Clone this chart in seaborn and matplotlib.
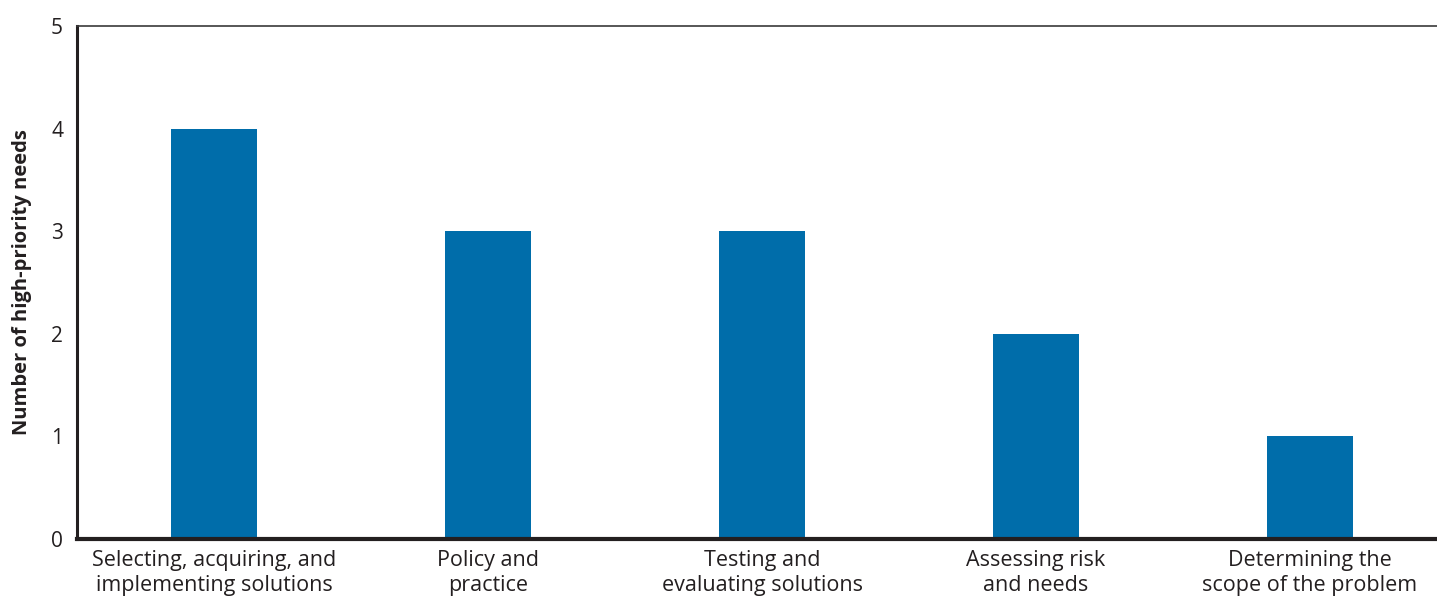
import matplotlib
matplotlib.use("Agg")
import matplotlib.pyplot as plt
import seaborn as sns
import pandas as pd

categories = [
    "Selecting, acquiring, and\nimplementing solutions",
    "Policy and\npractice",
    "Testing and\nevaluating solutions",
    "Assessing risk\nand needs",
    "Determining the\nscope of the problem",
]
values = [4, 3, 3, 2, 1]
y_ticks = [0, 1, 2, 3, 4, 5]

sns.set_theme(style="white")
plt.rcParams['font.family'] = ['Open Sans', 'DejaVu Sans']

df = pd.DataFrame({"category": categories, "value": values})

fig = plt.figure(figsize=(14.37, 5.97), dpi=100)
ax = fig.add_axes([77/1437, 1-539/597, 1-77/1437, (539-26)/597])

sns.barplot(data=df, x="category", y="value", color="#006DAA", width=0.314,
            saturation=1, linewidth=0, ax=ax)

ax.set_xlim(-0.5, (1437-214)/274)
ax.set_ylim(0, 5)
ax.set_yticks(y_ticks)
ax.set_yticklabels([str(t) for t in y_ticks], fontsize=15, color="#231F20")
ax.tick_params(axis='y', direction='in', length=9, width=1.2, color="#6d6d6d", pad=10)
ax.tick_params(axis='x', length=0, pad=8, labelsize=15.5, labelcolor="#231F20")
for lbl in ax.get_xticklabels():
    lbl.set_linespacing(1.25)
ax.set_xlabel("")
ax.set_ylabel("Number of high-priority needs", fontsize=14.5, fontweight='bold',
              color="#231F20", labelpad=14)

ax.spines['left'].set_linewidth(2.2)
ax.spines['left'].set_color("#231F20")
ax.spines['bottom'].set_linewidth(3)
ax.spines['bottom'].set_color("#231F20")
ax.spines['top'].set_linewidth(1.2)
ax.spines['top'].set_color("#3a3a3a")
ax.spines['right'].set_visible(False)
ax.grid(False)

fig.savefig("out.png", dpi=100)
